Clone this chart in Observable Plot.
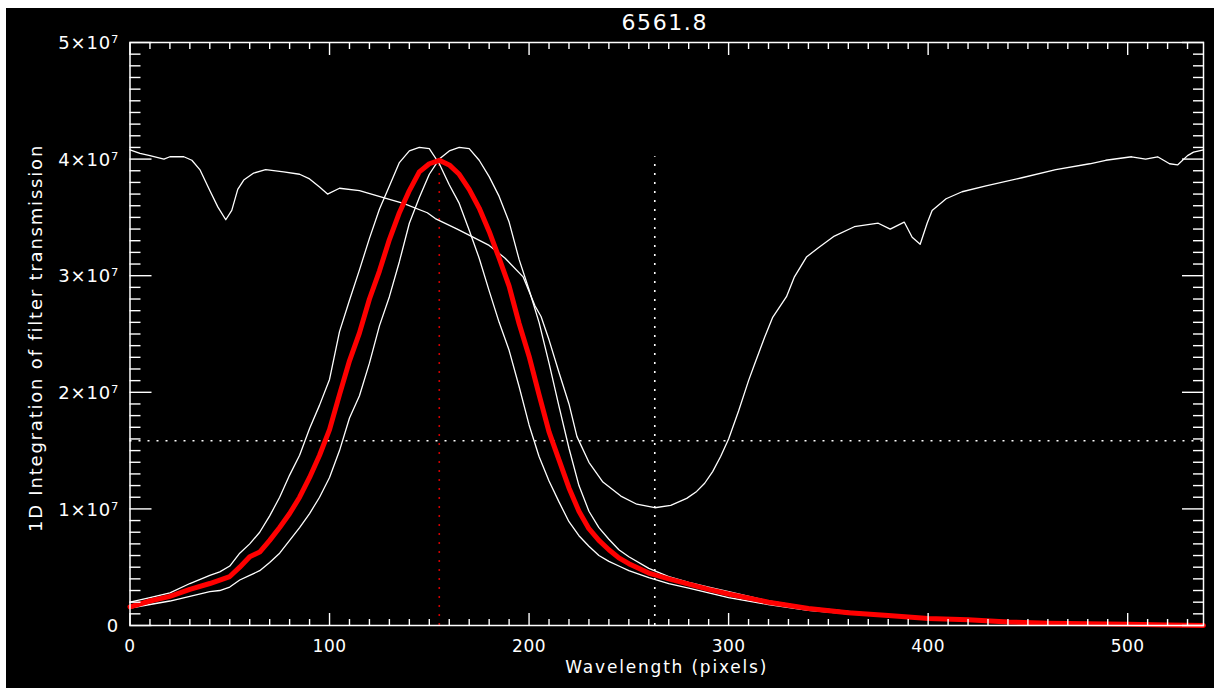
<!DOCTYPE html>
<html>
<head>
<meta charset="utf-8">
<script src="https://cdn.jsdelivr.net/npm/d3@7"></script>
<script src="https://cdn.jsdelivr.net/npm/@observablehq/plot@0.6"></script>
<style>
  html, body { margin: 0; padding: 0; background: #fff; }
  #chart { position: absolute; left: 6px; top: 8px; width: 1208px; height: 680px; background: #000; }
  #chart svg { display: block; }
</style>
</head>
<body>
<div id="chart"></div>
<script>
// Texts
const title = "6561.8";
const xLabel = "Wavelength (pixels)";
const yLabel = "1D Integration of filter transmission";

// Filter transmission profiles (values in units of 1e7), sampled on a shared pixel grid
const filterX = [0, 10, 20, 30, 40, 45, 50, 55, 60, 65, 70, 75, 80, 85, 90, 95, 100, 105, 110, 115,
  120, 125, 130, 135, 140, 145, 150, 155, 160, 165, 170, 175, 180, 185, 190, 195, 200, 205, 210, 215,
  220, 225, 230, 235, 240, 245, 250, 260, 270, 280, 290, 300, 320, 340, 360, 380, 400, 420, 440, 460,
  480, 500, 520, 538];
const filterCenter = [0.16, 0.21, 0.25, 0.31, 0.36, 0.39, 0.42, 0.50, 0.59, 0.63, 0.73, 0.84, 0.96, 1.10, 1.27, 1.46, 1.68, 1.98, 2.27, 2.51,
  2.80, 3.04, 3.31, 3.54, 3.73, 3.89, 3.96, 3.99, 3.95, 3.87, 3.74, 3.58, 3.38, 3.15, 2.91, 2.59, 2.31, 1.98, 1.66, 1.42,
  1.18, 0.98, 0.83, 0.73, 0.65, 0.58, 0.53, 0.45, 0.40, 0.355, 0.31, 0.27, 0.20, 0.145, 0.11, 0.085, 0.06, 0.05, 0.03, 0.02,
  0.015, 0.01, 0.005, 0.0];
const filterBlue = [0.20, 0.24, 0.28, 0.36, 0.43, 0.46, 0.51, 0.62, 0.70, 0.80, 0.94, 1.10, 1.29, 1.46, 1.69, 1.89, 2.11, 2.52, 2.79, 3.05,
  3.32, 3.57, 3.77, 3.97, 4.07, 4.10, 4.09, 3.96, 3.78, 3.62, 3.39, 3.15, 2.87, 2.60, 2.36, 2.05, 1.72, 1.45, 1.24, 1.06,
  0.89, 0.77, 0.68, 0.60, 0.55, 0.51, 0.47, 0.41, 0.36, 0.32, 0.28, 0.24, 0.18, 0.13, 0.10, 0.08, 0.055, 0.04, 0.028, 0.018,
  0.012, 0.008, 0.004, 0.0];
const filterRed = [0.15, 0.18, 0.21, 0.25, 0.29, 0.30, 0.33, 0.39, 0.43, 0.47, 0.54, 0.62, 0.73, 0.84, 0.96, 1.10, 1.27, 1.50, 1.78, 1.97,
  2.25, 2.57, 2.82, 3.12, 3.45, 3.67, 3.87, 4.00, 4.07, 4.10, 4.09, 3.99, 3.85, 3.68, 3.46, 3.14, 2.88, 2.60, 2.25, 1.88,
  1.52, 1.20, 0.98, 0.84, 0.74, 0.65, 0.59, 0.49, 0.42, 0.37, 0.33, 0.29, 0.21, 0.155, 0.12, 0.09, 0.065, 0.05, 0.035, 0.024,
  0.017, 0.011, 0.006, 0.0];

// Scaled H-alpha line profile (units of 1e7)
const specX = [0, 5, 10, 17, 20, 27, 31, 35, 40, 44, 48, 51, 54, 57, 62, 68, 77, 85, 90, 95,
  99, 105, 115, 127, 137, 149, 153, 164, 180, 188, 197, 203, 206, 210, 215, 220, 224, 230, 237, 246,
  254, 263, 271, 279, 284, 288, 292, 296, 300, 305, 310, 313, 318, 322, 329, 333, 339, 345, 353, 363,
  375, 381, 388, 392, 396, 399.5, 402, 409, 417, 429, 447, 464, 481, 489, 502, 509, 515, 521, 525, 530,
  533, 538];
const specY = [4.08, 4.05, 4.03, 4.00, 4.02, 4.02, 3.99, 3.91, 3.73, 3.59, 3.48, 3.56, 3.74, 3.82, 3.88, 3.91, 3.89, 3.87, 3.83, 3.76,
  3.70, 3.75, 3.73, 3.67, 3.62, 3.54, 3.49, 3.40, 3.26, 3.15, 2.99, 2.74, 2.65, 2.45, 2.17, 1.90, 1.62, 1.40, 1.23, 1.11,
  1.04, 1.01, 1.03, 1.09, 1.15, 1.22, 1.32, 1.45, 1.60, 1.84, 2.10, 2.24, 2.47, 2.64, 2.82, 2.99, 3.16, 3.24, 3.34, 3.42,
  3.45, 3.40, 3.46, 3.33, 3.27, 3.45, 3.56, 3.66, 3.72, 3.77, 3.84, 3.91, 3.96, 3.99, 4.02, 4.00, 4.02, 3.96, 3.95, 4.03,
  4.06, 4.08];

// Reference markers
const halfLevel = 1.585;      // horizontal dotted level (1e7)
const lineCenterX = 155;      // filter centre pixel
const lineCenterTop = 3.99;   // filter peak (1e7)
const profileMinX = 263;      // line-core pixel
const profileMinTop = 4.02;   // top of line-core marker (1e7)

// Axes
const xDomain = [0, 538];
const yDomain = [0, 5];
const xMajor = [0, 100, 200, 300, 400, 500];
const xMajorLabels = ["0", "100", "200", "300", "400", "500"];
const yMajor = [0, 1, 2, 3, 4, 5];
const yMajorLabels = ["0", "1×10⁷", "2×10⁷", "3×10⁷", "4×10⁷", "5×10⁷"];
const xMinor = d3.range(0, 538, 10).filter(v => v % 100 !== 0);
const yMinor = d3.range(0, 5.0001, 0.1).map(v => +v.toFixed(1)).filter(v => !yMajor.includes(v));

const E7 = 1e7;
const toRows = (xs, ys) => xs.map((x, i) => ({x, y: ys[i] * E7}));
const centerRows = toRows(filterX, filterCenter);
const blueRows = toRows(filterX, filterBlue);
const redRows = toRows(filterX, filterRed);
const specRows = toRows(specX, specY);

const WHITE = "#ffffff";
const font = "DejaVu Sans, sans-serif";
const noText = () => "";
const tickStyle = {stroke: WHITE, strokeWidth: 1.4, tickFormat: noText, label: null};
const labelStyle = {fill: WHITE, lineAnchor: "middle"};

const chart = Plot.plot({
  width: 1208,
  height: 680,
  marginLeft: 123.5,
  marginRight: 11,
  marginTop: 34,
  marginBottom: 63,
  style: {background: "#000", color: WHITE, fontFamily: font, fontSize: "16px", overflow: "visible"},
  x: {domain: xDomain},
  y: {domain: yDomain.map(v => v * E7)},
  marks: [
    // dotted reference lines
    Plot.ruleY([halfLevel * E7], {stroke: WHITE, strokeWidth: 1.6, strokeDasharray: "2,7"}),
    Plot.ruleX([profileMinX], {y1: 0, y2: profileMinTop * E7, stroke: WHITE, strokeWidth: 1.6, strokeDasharray: "2,7"}),
    Plot.ruleX([lineCenterX], {y1: 0, y2: lineCenterTop * E7, stroke: "#cc0000", strokeWidth: 1.6, strokeDasharray: "2,7"}),

    // line profile and shifted filter curves
    Plot.line(specRows, {x: "x", y: "y", stroke: WHITE, strokeWidth: 1.3}),
    Plot.line(blueRows, {x: "x", y: "y", stroke: WHITE, strokeWidth: 1.3}),
    Plot.line(redRows, {x: "x", y: "y", stroke: WHITE, strokeWidth: 1.3}),
    // central filter curve
    Plot.line(centerRows, {x: "x", y: "y", stroke: "#ff0000", strokeWidth: 5}),

    Plot.frame({stroke: WHITE, strokeWidth: 1.5}),

    // inward ticks on all four sides
    Plot.axisX(xMinor, {anchor: "bottom", tickSize: 6, dy: -6, ...tickStyle}),
    Plot.axisX(xMajor, {anchor: "bottom", tickSize: 12, dy: -12, ...tickStyle}),
    Plot.axisX(xMinor, {anchor: "top", tickSize: 6, dy: 6, ...tickStyle}),
    Plot.axisX(xMajor, {anchor: "top", tickSize: 12, dy: 12, ...tickStyle}),
    Plot.axisY(yMinor.map(v => v * E7), {anchor: "left", tickSize: 11, dx: 11, ...tickStyle}),
    Plot.axisY(yMajor.map(v => v * E7), {anchor: "left", tickSize: 22, dx: 22, ...tickStyle}),
    Plot.axisY(yMinor.map(v => v * E7), {anchor: "right", tickSize: 11, dx: -11, ...tickStyle}),
    Plot.axisY(yMajor.map(v => v * E7), {anchor: "right", tickSize: 22, dx: -22, ...tickStyle}),

    // tick labels
    Plot.text(xMajor, {x: d => d, frameAnchor: "bottom", dy: 21, text: (d, i) => xMajorLabels[i], fontSize: 17, ...labelStyle}),
    Plot.text(yMajor, {y: d => d * E7, frameAnchor: "left", dx: -11, dy: 1, textAnchor: "end", text: (d, i) => yMajorLabels[i], fontSize: 18, ...labelStyle}),

    // titles
    Plot.text([title], {frameAnchor: "top", dy: -20, dx: -2, text: d => d, fontSize: 22, ...labelStyle}),
    Plot.text([xLabel], {frameAnchor: "bottom", dy: 42, text: d => d, fontSize: 17, ...labelStyle}),
    Plot.text([yLabel], {frameAnchor: "left", dx: -94, dy: 4, rotate: -90, textAnchor: "middle", text: d => d, fontSize: 18, ...labelStyle})
  ]
});

// wide, evenly spaced lettering for the annotation texts
const spacing = new Map([[title, 1.6], [xLabel, 1.8], [yLabel, 1.8]]);
yMajorLabels.forEach(t => spacing.set(t, 0.8));
xMajorLabels.forEach(t => { if (!spacing.has(t)) spacing.set(t, 0.5); });
chart.querySelectorAll("text").forEach(el => {
  const s = spacing.get(el.textContent);
  if (s != null) el.style.letterSpacing = s + "px";
});

document.getElementById("chart").appendChild(chart);
</script>
</body>
</html>
